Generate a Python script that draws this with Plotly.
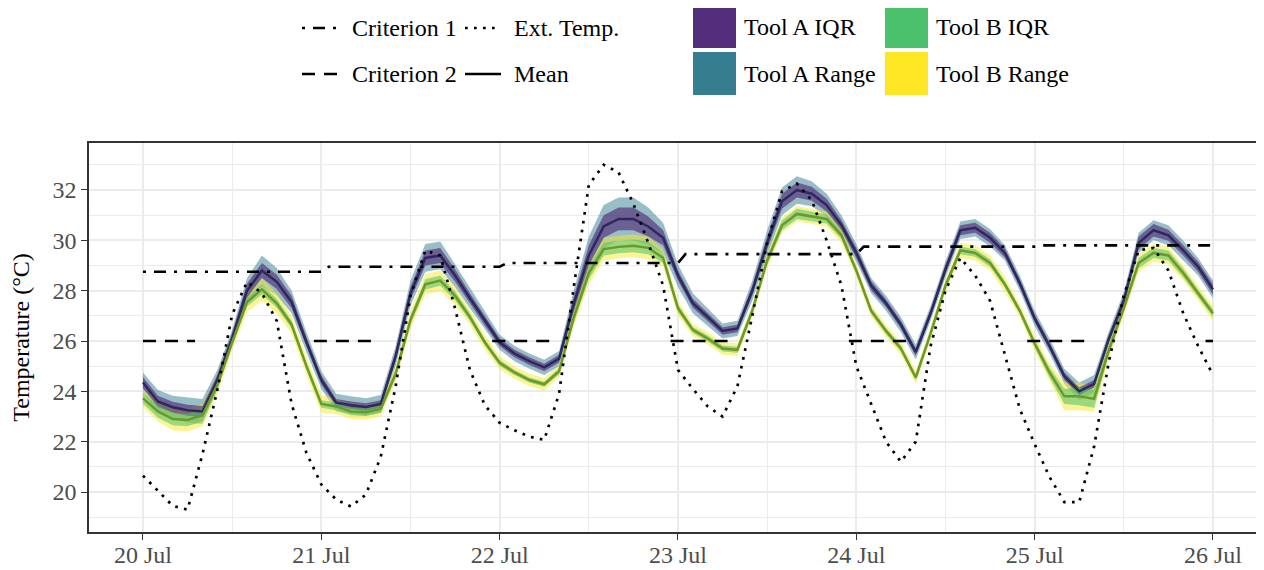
import pandas as pd
import plotly.graph_objects as go

# ---------------- data ----------------
start = "2021-07-20 00:00"
n_2h = 73   # 2-hourly samples, 20 Jul 00:00 .. 26 Jul 00:00
n_1h = 145  # hourly samples for the criteria

tool_a_mean = [24.35, 23.6, 23.37, 23.25, 23.2, 24.45, 26.1, 28.0, 28.8, 28.35, 27.55, 25.95, 24.45,
               23.55, 23.45, 23.38, 23.5, 25.4, 27.9, 29.3, 29.4, 28.6, 27.7, 26.8, 25.95,
               25.5, 25.2, 24.95, 25.3, 27.5, 29.4, 30.55, 30.85, 30.85, 30.55, 30.1, 28.6,
               27.5, 26.95, 26.4, 26.5, 28.0, 29.9, 31.55, 32.0, 31.85, 31.4, 30.6, 29.5,
               28.2, 27.5, 26.65, 25.56, 27.1, 28.85, 30.4, 30.5, 30.1, 29.5, 28.3, 26.9,
               25.8, 24.6, 24.0, 24.3, 26.1, 27.6, 29.9, 30.4, 30.2, 29.6, 28.95, 28.05]

tool_b_mean = [23.72, 23.2, 22.9, 22.86, 23.05, 24.25, 25.95, 27.55, 28.05, 27.5, 26.65, 25.0, 23.5,
               23.4, 23.2, 23.17, 23.3, 24.7, 26.84, 28.25, 28.4, 27.8, 26.95, 25.95, 25.13,
               24.75, 24.45, 24.28, 24.8, 26.95, 28.7, 29.65, 29.74, 29.78, 29.7, 29.3, 27.3,
               26.44, 26.1, 25.7, 25.65, 27.2, 29.2, 30.6, 31.05, 30.95, 30.85, 30.2, 28.8,
               27.2, 26.4, 25.7, 24.55, 26.3, 28.2, 29.6, 29.5, 29.1, 28.25, 27.2, 25.9,
               24.75, 23.8, 23.8, 23.7, 25.65, 27.3, 29.1, 29.5, 29.4, 28.7, 27.9, 27.1]

ext_temp = [20.65, 20.05, 19.45, 19.3, 21.5, 24.05, 27.05, 28.35, 27.9, 26.8, 23.5, 21.55, 20.3,
            19.7, 19.42, 19.9, 21.4, 24.2, 27.8, 29.6, 29.4, 27.3, 24.85, 23.45, 22.75,
            22.45, 22.2, 22.07, 23.9, 28.2, 32.2, 33.0, 32.7, 31.45, 29.9, 28.2, 24.85,
            24.1, 23.4, 23.0, 24.2, 27.0, 29.9, 31.95, 32.25, 31.6, 30.0, 28.2, 25.0,
            23.5, 22.0, 21.2, 22.0, 25.8, 28.0, 29.3, 28.6, 27.6, 25.4, 23.3, 21.9,
            20.6, 19.6, 19.6, 21.8, 25.2, 27.8, 29.6, 29.7, 28.8, 27.1, 25.8, 24.65]

# band half-widths read from the ribbons
tool_a_iqr_hw = [0.22, 0.22, 0.22, 0.22, 0.22, 0.2, 0.22, 0.28, 0.3, 0.28, 0.25, 0.2, 0.18,
                 0.15, 0.15, 0.15, 0.15, 0.2, 0.25, 0.3, 0.3, 0.25, 0.2, 0.18, 0.15,
                 0.15, 0.15, 0.15, 0.15, 0.3, 0.4, 0.45, 0.45, 0.45, 0.4, 0.3, 0.2,
                 0.18, 0.15, 0.15, 0.15, 0.2, 0.25, 0.3, 0.3, 0.28, 0.25, 0.2, 0.2,
                 0.18, 0.15, 0.15, 0.15, 0.15, 0.18, 0.2, 0.2, 0.2, 0.18, 0.15, 0.15,
                 0.15, 0.15, 0.15, 0.15, 0.15, 0.2, 0.25, 0.25, 0.22, 0.2, 0.2, 0.2]
tool_a_rng_hw = [0.4, 0.45, 0.45, 0.5, 0.5, 0.4, 0.35, 0.5, 0.6, 0.55, 0.45, 0.4, 0.35,
                 0.35, 0.35, 0.35, 0.35, 0.4, 0.5, 0.55, 0.55, 0.45, 0.4, 0.35, 0.3,
                 0.3, 0.3, 0.3, 0.3, 0.55, 0.75, 0.85, 0.85, 0.85, 0.75, 0.6, 0.45,
                 0.4, 0.35, 0.3, 0.3, 0.4, 0.5, 0.55, 0.55, 0.5, 0.45, 0.4, 0.35,
                 0.3, 0.3, 0.3, 0.3, 0.3, 0.32, 0.35, 0.35, 0.35, 0.3, 0.3, 0.3,
                 0.3, 0.3, 0.35, 0.35, 0.3, 0.35, 0.4, 0.4, 0.4, 0.38, 0.35, 0.35]
tool_b_iqr_hw = [0.2, 0.25, 0.25, 0.25, 0.25, 0.2, 0.15, 0.18, 0.2, 0.18, 0.15, 0.15, 0.15,
                 0.15, 0.15, 0.15, 0.15, 0.15, 0.18, 0.2, 0.2, 0.18, 0.15, 0.12, 0.12,
                 0.1, 0.1, 0.1, 0.12, 0.2, 0.25, 0.25, 0.25, 0.25, 0.25, 0.2, 0.15,
                 0.12, 0.12, 0.12, 0.12, 0.15, 0.18, 0.2, 0.2, 0.2, 0.18, 0.15, 0.12,
                 0.12, 0.12, 0.12, 0.12, 0.12, 0.15, 0.15, 0.15, 0.15, 0.12, 0.12, 0.15,
                 0.2, 0.3, 0.35, 0.35, 0.2, 0.15, 0.2, 0.2, 0.2, 0.18, 0.15, 0.15]
tool_b_rng_hw = [0.35, 0.4, 0.45, 0.45, 0.45, 0.35, 0.3, 0.4, 0.45, 0.4, 0.35, 0.35, 0.35,
                 0.3, 0.3, 0.3, 0.3, 0.3, 0.35, 0.4, 0.4, 0.35, 0.3, 0.3, 0.25,
                 0.25, 0.25, 0.25, 0.25, 0.35, 0.45, 0.45, 0.45, 0.45, 0.45, 0.35, 0.3,
                 0.25, 0.25, 0.25, 0.25, 0.25, 0.3, 0.3, 0.3, 0.3, 0.3, 0.3, 0.25,
                 0.25, 0.25, 0.25, 0.25, 0.25, 0.28, 0.3, 0.3, 0.3, 0.3, 0.25, 0.3,
                 0.35, 0.55, 0.55, 0.5, 0.35, 0.3, 0.35, 0.35, 0.35, 0.3, 0.3, 0.3]

criterion1_daily = [28.75, 28.95, 29.1, 29.45, 29.75, 29.8]
criterion2_value = 26.0
criterion2_hours = [23, 0, 1, 2, 3, 4, 5, 6, 7]

y_ticks = [20, 22, 24, 26, 28, 30, 32]

# ---------------- build ----------------
t2 = list(pd.date_range(start, periods=n_2h, freq="2h"))
t1 = list(pd.date_range(start, periods=n_1h, freq="1h"))

crit1 = []
for h in range(n_1h):
    d = max(0, -(-h // 24) - 1)
    crit1.append(criterion1_daily[d])
crit2 = [criterion2_value if ts.hour in criterion2_hours else None for ts in t1]

FONT = "Liberation Serif"
C_A_IQR = "#522E7A"
C_A_RNG = "#347E8F"
C_B_IQR = "#4AC16D"
C_B_RNG = "#FDE725"

fig = go.Figure()


def band(mean, hw, color):
    hi = [m + w for m, w in zip(mean, hw)]
    lo = [m - w for m, w in zip(mean, hw)]
    fig.add_trace(go.Scatter(x=t2 + t2[::-1], y=hi + lo[::-1], fill="toself",
                             fillcolor=color, line=dict(width=0), mode="lines",
                             hoverinfo="skip", showlegend=False))


band(tool_a_mean, tool_a_rng_hw, "rgba(52,126,143,0.5)")
band(tool_b_mean, tool_b_rng_hw, "rgba(253,231,37,0.5)")
band(tool_a_mean, tool_a_iqr_hw, "rgba(82,46,122,0.65)")
band(tool_b_mean, tool_b_iqr_hw, "rgba(74,193,109,0.55)")

fig.add_trace(go.Scatter(x=t2, y=tool_a_mean, mode="lines",
                         line=dict(color="#2E285E", width=2.5), showlegend=False))
fig.add_trace(go.Scatter(x=t2, y=tool_b_mean, mode="lines",
                         line=dict(color="#6C9A2A", width=2.5), showlegend=False))
fig.add_trace(go.Scatter(x=t2, y=ext_temp, mode="lines",
                         line=dict(color="black", width=2.7, dash="2.7px,6.3px"), showlegend=False))
fig.add_trace(go.Scatter(x=t1, y=crit1, mode="lines",
                         line=dict(color="black", width=2.6, dash="3px,8px,12px,8px"), showlegend=False))
fig.add_trace(go.Scatter(x=t1, y=crit2, mode="lines", connectgaps=False,
                         line=dict(color="black", width=2.6, dash="13px,9px"), showlegend=False))

# ---------------- custom legend (page pixel -> paper) ----------------
OFF = 8                      # page body margin
FW, FH = 1256, 562           # figure size
L, R, T, B = 89 - OFF, 1263 - OFF, 143 - OFF, 532 - OFF
W, H = R - L, B - T


def px(x):
    return (x - OFF - L) / W


def py(y):
    return (B - (y - OFF)) / H


shapes = []
annos = []
line_items = [
    ("Criterion 1", "3px,8px,12px,8px", 302, 340, 28),
    ("Ext. Temp.", "2.7px,6.3px", 465, 501, 28),
    ("Criterion 2", "13px,9px", 302, 340, 74),
    ("Mean", "solid", 465, 501, 74),
]
text_x = {302: 350, 465: 512}
for label, dash, x0, x1, yy in line_items:
    shapes.append(dict(type="line", xref="paper", yref="paper", x0=px(x0), x1=px(x1),
                       y0=py(yy), y1=py(yy), line=dict(color="black", width=2.6, dash=dash)))
    annos.append(dict(text=label, xref="paper", yref="paper", x=px(text_x[x0]), y=py(yy),
                      xanchor="left", yanchor="middle", showarrow=False,
                      font=dict(family=FONT, size=24, color="black")))

fill_items = [
    ("Tool A IQR", C_A_IQR, 693, 5),
    ("Tool A Range", C_A_RNG, 693, 52),
    ("Tool B IQR", C_B_IQR, 885, 5),
    ("Tool B Range", C_B_RNG, 885, 52),
]
for label, col, x0, y0 in fill_items:
    shapes.append(dict(type="rect", xref="paper", yref="paper", x0=px(x0), x1=px(x0 + 43),
                       y0=py(y0), y1=py(y0 + 43), fillcolor=col, line=dict(width=0)))
    annos.append(dict(text=label, xref="paper", yref="paper", x=px(x0 + 49), y=py(y0 + 22),
                      xanchor="left", yanchor="middle", showarrow=False,
                      font=dict(family=FONT, size=24, color="black")))

fig.update_layout(
    width=FW, height=FH,
    margin=dict(l=L, r=FW - R, t=T, b=FH - B),
    paper_bgcolor="white", plot_bgcolor="white",
    font=dict(family=FONT, size=24, color="black"),
    shapes=shapes, annotations=annos, showlegend=False,
)
fig.update_xaxes(
    type="date", automargin=False,
    range=["2021-07-19 16:44", "2021-07-26 06:44"],
    tickformat="%d %b", dtick=86400000, tick0="2021-07-20",
    showgrid=True, gridcolor="#EBEBEB", gridwidth=1.6,
    minor=dict(dtick=43200000, tick0="2021-07-20", showgrid=True, gridcolor="#EBEBEB",
               gridwidth=0.8, ticklen=0),
    showline=True, mirror=True, linecolor="#333333", linewidth=1.5,
    ticks="outside", ticklen=6, tickwidth=1.3, tickcolor="#333333",
    tickfont=dict(family=FONT, size=24, color="#4D4D4D"),
    ticklabelstandoff=-6,
    zeroline=False,
)
fig.update_yaxes(
    automargin=False,
    range=[18.411, 33.867],
    tickvals=y_ticks, ticktext=[str(v) for v in y_ticks],
    showgrid=True, gridcolor="#EBEBEB", gridwidth=1.6,
    minor=dict(dtick=1, tick0=0, showgrid=True, gridcolor="#EBEBEB", gridwidth=0.8, ticklen=0),
    showline=True, mirror=True, linecolor="#333333", linewidth=1.5,
    ticks="outside", ticklen=6, tickwidth=1.3, tickcolor="#333333",
    tickfont=dict(family=FONT, size=24, color="#4D4D4D"),
    title=dict(text="Temperature (°C)", font=dict(family=FONT, size=24, color="black"), standoff=16),
    zeroline=False,
)

fig.write_html("out.html")
